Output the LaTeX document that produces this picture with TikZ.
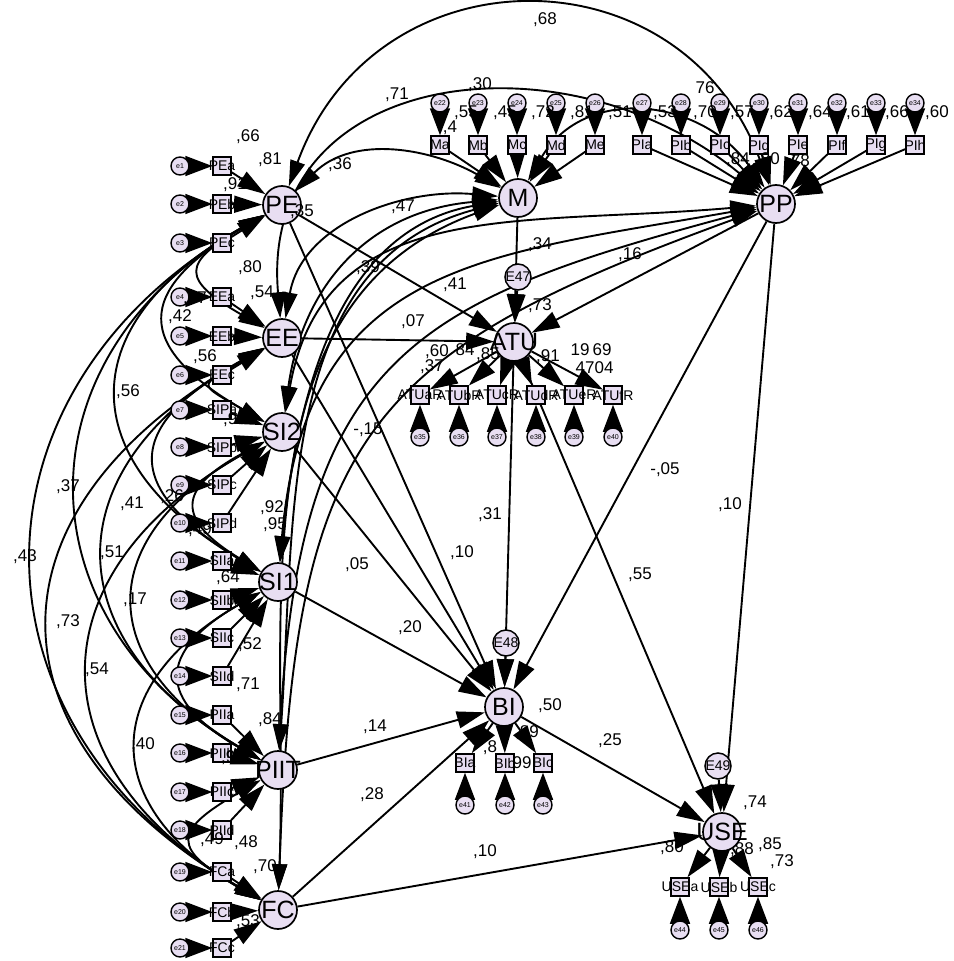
\documentclass[tikz,border=0pt]{standalone}
\usepackage{fontspec}
\setmainfont{Liberation Sans}
\usetikzlibrary{arrows.meta}
\pgfdeclarelayer{bg}
\pgfsetlayers{bg,main}
\definecolor{lav}{RGB}{232,222,242}
\begin{document}
\begin{tikzpicture}[x=1pt,y=-1pt,
  lat/.style={circle,draw,fill=lav,line width=1.7pt,minimum size=38pt,inner sep=0pt,font=\fontsize{25}{25}\selectfont},
  ind/.style={rectangle,draw,fill=lav,line width=1.5pt,minimum size=18pt,inner sep=0pt,font=\fontsize{14}{14}\selectfont},
  err/.style={circle,draw,fill=lav,line width=1.4pt,minimum size=18pt,inner sep=0pt,font=\fontsize{7}{7}\selectfont},
  dist/.style={circle,draw,fill=lav,line width=1.5pt,minimum size=26pt,inner sep=0pt,font=\fontsize{14}{14}\selectfont},
  num/.style={font=\fontsize{17}{17}\selectfont,inner sep=0pt},
  pth/.style={line width=1.9pt,-{Triangle[length=28pt,width=17pt]}},
  epth/.style={line width=1.7pt,-{Triangle[length=27pt,width=20pt]}},
  cov/.style={line width=1.9pt,{Triangle[length=26pt,width=15pt]}-{Triangle[length=26pt,width=15pt]}},
]
\useasboundingbox (0,0) rectangle (953,961);
% latent variables
\node[lat] (PE) at (282,205) {\makebox[0pt]{PE}};
\node[lat] (EE) at (282,338) {\makebox[0pt]{EE}};
\node[lat] (SI2) at (282,432) {\makebox[0pt]{SI2}};
\node[lat] (SI1) at (278,582) {\makebox[0pt]{SI1}};
\node[lat] (PIIT) at (278,770) {\makebox[0pt]{PIIT}};
\node[lat] (FC) at (278,910) {\makebox[0pt]{FC}};
\node[lat] (M) at (518,198) {\makebox[0pt]{M}};
\node[lat] (PP) at (776,204) {\makebox[0pt]{PP}};
\node[lat] (ATU) at (514,342) {\makebox[0pt]{ATU}};
\node[lat] (BI) at (504,707) {\makebox[0pt]{BI}};
\node[lat] (USE) at (722,832) {\makebox[0pt]{USE}};
% disturbances
\node[dist] (E47) at (518,277) {\makebox[0pt]{E47}};
\node[dist] (E48) at (506,643) {\makebox[0pt]{E48}};
\node[dist] (E49) at (718,766) {\makebox[0pt]{E49}};
% left indicators
\foreach \i/\y/\t/\g in {1/166/PEa/PE,2/204/PEb/PE,3/243/PEc/PE,
  4/297/EEa/EE,5/336/EEb/EE,6/375/EEc/EE,
  7/410/SIPa/SI2,8/447/SIPb/SI2,9/485/SIPc/SI2,10/523/SIPd/SI2,
  11/561/SIIa/SI1,12/600/SIIb/SI1,13/638/SIIc/SI1,14/676/SIId/SI1,
  15/715/PIIa/PIIT,16/753/PIIb/PIIT,17/792/PIIc/PIIT,18/830/PIId/PIIT,
  19/872/FCa/FC,20/912/FCb/FC,21/948/FCc/FC}{
  \node[ind] (L\i) at (222,\y) {\makebox[0pt]{\t}};
  \node[err] (le\i) at (180,\y) {\makebox[0pt]{e\i}};
  \begin{pgfonlayer}{bg}
    \draw[epth] (le\i) -- (L\i);
    \draw[pth] (L\i) -- (\g);
  \end{pgfonlayer}
}
% top indicators
\foreach \i/\x/\t/\g in {22/440/Ma/M,23/478/Mb/M,24/517/Mc/M,25/556/Md/M,26/595/Me/M,
  27/642/PIa/PP,28/681/PIb/PP,29/720/PIc/PP,30/759/PId/PP,31/798/PIe/PP,32/837/PIf/PP,33/876/PIg/PP,34/915/PIh/PP}{
  \node[ind] (T\i) at (\x,145) {\makebox[0pt]{\t}};
  \node[err] (te\i) at (\x,103) {\makebox[0pt]{e\i}};
  \begin{pgfonlayer}{bg}
    \draw[epth] (te\i) -- (T\i);
    \draw[pth] (T\i) -- (\g);
  \end{pgfonlayer}
}
% ATU indicators
\foreach \i/\x/\t in {35/420/ATUaR,36/459/ATUbR,37/497/ATUcR,38/536/ATUdR,39/574/ATUeR,40/613/ATUfR}{
  \node[ind] (A\i) at (\x,395) {\makebox[0pt]{\t}};
  \node[err] (ae\i) at (\x,437) {\makebox[0pt]{e\i}};
  \begin{pgfonlayer}{bg}
    \draw[epth] (ae\i) -- (A\i);
    \draw[pth] (ATU) -- (A\i);
  \end{pgfonlayer}
}
% BI indicators
\foreach \i/\x/\t in {41/465/BIa,42/505/BIb,43/543/BIc}{
  \node[ind] (B\i) at (\x,763) {\makebox[0pt]{\t}};
  \node[err] (be\i) at (\x,805) {\makebox[0pt]{e\i}};
  \begin{pgfonlayer}{bg}
    \draw[epth] (be\i) -- (B\i);
    \draw[pth] (BI) -- (B\i);
  \end{pgfonlayer}
}
% USE indicators
\foreach \i/\x/\t in {44/680/USEa,45/719/USEb,46/758/USEc}{
  \node[ind] (U\i) at (\x,887) {\makebox[0pt]{\t}};
  \node[err] (ue\i) at (\x,930) {\makebox[0pt]{e\i}};
  \begin{pgfonlayer}{bg}
    \draw[epth] (ue\i) -- (U\i);
    \draw[pth] (USE) -- (U\i);
  \end{pgfonlayer}
}
\begin{pgfonlayer}{bg}
% structural paths
\draw[pth] (E47) -- (ATU);
\draw[pth] (E48) -- (BI);
\draw[pth] (E49) -- (USE);
\draw[pth] (PE) -- (ATU);
\draw[pth] (PE) -- (BI);
\draw[pth] (EE) -- (ATU);
\draw[pth] (EE) -- (BI);
\draw[pth] (SI2) -- (BI);
\draw[pth] (SI1) -- (BI);
\draw[pth] (PIIT) -- (BI);
\draw[pth] (FC) -- (BI);
\draw[pth] (FC) -- (USE);
\draw[pth] (M) -- (ATU);
\draw[pth] (PP) -- (ATU);
\draw[pth] (PP) -- (BI);
\draw[pth] (PP) -- (USE);
\draw[pth] (ATU) -- (BI);
\draw[pth] (ATU) -- (USE);
\draw[pth] (BI) -- (USE);
% covariances on the left
\draw[cov] (PE) to[bend right=60,looseness=1.31] (FC);
\draw[cov] (EE) to[bend right=60,looseness=1.51] (FC);
\draw[cov] (PE) to[bend right=60,looseness=1.33] (PIIT);
\draw[cov] (SI2) to[bend right=60,looseness=1.48] (FC);
\draw[cov] (EE) to[bend right=60,looseness=1.5] (PIIT);
\draw[cov] (PE) to[bend right=60,looseness=1.58] (SI1);
\draw[cov] (SI2) to[bend right=60,looseness=1.57] (PIIT);
\draw[cov] (SI1) to[bend right=60,looseness=1.56] (FC);
\draw[cov] (EE) to[bend right=60,looseness=1.85] (SI1);
\draw[cov] (PE) to[bend right=60,looseness=1.87] (SI2);
\draw[cov] (SI1) to[bend right=60,looseness=1.84] (PIIT);
\draw[cov] (PIIT) to[bend right=60,looseness=2.2] (FC);
\draw[cov] (SI2) to[bend right=60,looseness=1.96] (SI1);
\draw[cov] (PE) to[bend right=60,looseness=2.2] (EE);
\draw[cov] (EE) to[bend right=60,looseness=2.7] (SI2);
% covariances on the right / top
\draw[cov] (PE) to[out=70,in=110,looseness=1.35] (PP);
\draw[cov] (EE) to[out=95,in=140,looseness=1.3] (PP);
\draw[cov] (PE) to[out=45,in=150] (M);
\draw[cov] (M) to[out=60,in=125,looseness=1.2] (PP);
\draw[cov] (EE) to[out=80,in=175] (M);
\draw[cov] (SI2) to[out=82,in=185,looseness=1.1] (M);
\draw[cov] (SI1) to[out=84,in=190] (M);
\draw[cov] (PIIT) to[out=86,in=195] (M);
\draw[cov] (FC) to[out=88,in=200] (M);
\draw[cov] (SI2) to[out=80,in=185,out looseness=1.1,in looseness=1.2] (PP);
\draw[cov] (SI1) to[out=85,in=190,out looseness=1.3,in looseness=1.2] (PP);
\draw[cov] (PIIT) to[out=87,in=195,out looseness=1.4,in looseness=1.25] (PP);
\draw[cov] (FC) to[out=88,in=200,out looseness=1.4,in looseness=1.3] (PP);
\end{pgfonlayer}
% estimates
\foreach \x/\y/\t in {545/20/{,68},397/95/{,71},480/85/{,30},705/88/{76},340/165/{,36},403/207/{,47},
  368/268/{,39},455/285/{,41},413/322/{,07},540/245/{,34},630/255/{,16},540/306/{,73},
  368/430/{-,15},357/565/{,05},462/553/{,10},490/515/{,31},665/470/{-,05},730/505/{,10},
  640/575/{,55},410/628/{,20},375/727/{,14},372/795/{,28},550/706/{,50},610/741/{,25},
  485/852/{,10},755/803/{,74},
  25/557/{,43},68/487/{,37},68/622/{,73},128/392/{,56},132/504/{,41},112/553/{,51},
  135/600/{,17},97/670/{,54},143/745/{,40},172/497/{,26},200/530/{,49},180/317/{,42},
  195/299/{,37},248/137/{,66},270/160/{,81},235/185/{,91},302/212/{,35},250/268/{,80},
  262/293/{,54},205/357/{,56},272/508/{,92},275/525/{,95},235/420/{,93},228/578/{,64},
  250/645/{,52},248/685/{,71},270/720/{,84},233/758/{,94},212/840/{,49},246/843/{,48},
  265/867/{,70},248/922/{,53},
  466/113/{,55},505/113/{,45},543/113/{,72},582/113/{,81},620/113/{,51},665/113/{,53},
  705/113/{,70},742/113/{,57},781/113/{,62},820/113/{,64},858/113/{,61},897/113/{,66},
  937/113/{,60},450/128/{,4},738/160/{,84},768/160/{,80},798/162/{,78},
  437/352/{,60},465/350/{84},432/367/{,37},488/355/{,85},548/357/{,91},580/350/{19},
  602/350/{69},585/368/{47},604/368/{04},
  490/748/{,8},527/733/{,89},522/763/{99},
  672/848/{,80},742/850/{,88},770/845/{,85},782/862/{,73}}{
  \node[num] at (\x,\y) {\t};
}
\end{tikzpicture}
\end{document}
